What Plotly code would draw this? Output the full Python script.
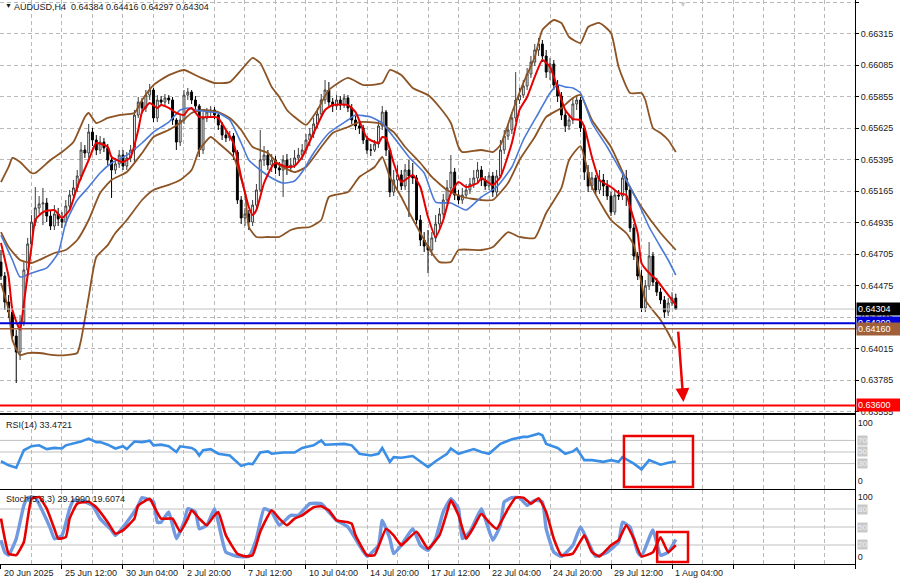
import plotly.graph_objects as go

# ---------------- data ----------------
bar_index = list(range(178))

opens = [0.64647, 0.64545, 0.64355, 0.64282, 0.64107, 0.63990, 0.64209, 0.64589, 0.64779, 0.64939,
         0.65042, 0.65071, 0.65078, 0.64983, 0.64910, 0.64998, 0.64961, 0.64939, 0.65056, 0.65136,
         0.65188, 0.65275, 0.65465, 0.65443, 0.65596, 0.65538, 0.65465, 0.65523, 0.65480, 0.65392,
         0.65319, 0.65363, 0.65428, 0.65348, 0.65407, 0.65465, 0.65720, 0.65815, 0.65772, 0.65866,
         0.65903, 0.65699, 0.65830, 0.65815, 0.65845, 0.65830, 0.65684, 0.65523, 0.65684, 0.65866,
         0.65888, 0.65830, 0.65786, 0.65465, 0.65699, 0.65742, 0.65757, 0.65720, 0.65647, 0.65574,
         0.65553, 0.65567, 0.65450, 0.65100, 0.64969, 0.64998, 0.64939, 0.65063, 0.65173, 0.65392,
         0.65428, 0.65355, 0.65392, 0.65334, 0.65319, 0.65392, 0.65334, 0.65355, 0.65407, 0.65428,
         0.65465, 0.65538, 0.65582, 0.65655, 0.65728, 0.65830, 0.65903, 0.65815, 0.65786, 0.65830,
         0.65794, 0.65845, 0.65772, 0.65684, 0.65640, 0.65626, 0.65538, 0.65465, 0.65465, 0.65509,
         0.65640, 0.65742, 0.65465, 0.65158, 0.65246, 0.65283, 0.65202, 0.65319, 0.65275, 0.65261,
         0.64954, 0.64808, 0.64764, 0.64735, 0.64823, 0.64925, 0.64998, 0.65100, 0.65188, 0.65304,
         0.65136, 0.65100, 0.65136, 0.65173, 0.65217, 0.65261, 0.65319, 0.65246, 0.65202, 0.65275,
         0.65158, 0.65275, 0.65465, 0.65567, 0.65611, 0.65699, 0.65830, 0.65866, 0.65932, 0.66020,
         0.66107, 0.66195, 0.66239, 0.66151, 0.66034, 0.66093, 0.65939, 0.65859, 0.65720, 0.65640,
         0.65684, 0.65801, 0.65830, 0.65626, 0.65304, 0.65202, 0.65261, 0.65173, 0.65246, 0.65202,
         0.65129, 0.65012, 0.65136, 0.65129, 0.65261, 0.65173, 0.64896, 0.64691, 0.64545, 0.64312,
         0.64472, 0.64691, 0.64501, 0.64428, 0.64370, 0.64282, 0.64348, 0.64384]

highs = [0.64735, 0.64574, 0.64406, 0.64312, 0.64151, 0.64260, 0.64647, 0.64823, 0.64990, 0.65195,
         0.65129, 0.65188, 0.65115, 0.65027, 0.65063, 0.65042, 0.65012, 0.65100, 0.65173, 0.65246,
         0.65319, 0.65523, 0.65501, 0.65655, 0.65626, 0.65574, 0.65567, 0.65553, 0.65509, 0.65428,
         0.65407, 0.65465, 0.65465, 0.65450, 0.65501, 0.65757, 0.65852, 0.65845, 0.65903, 0.65947,
         0.65918, 0.65866, 0.65859, 0.65874, 0.65866, 0.65852, 0.65699, 0.65720, 0.65903, 0.65918,
         0.65903, 0.65859, 0.65801, 0.65742, 0.65772, 0.65786, 0.65779, 0.65742, 0.65669, 0.65611,
         0.65604, 0.65589, 0.65465, 0.65129, 0.65042, 0.65027, 0.65100, 0.65217, 0.65611, 0.65494,
         0.65465, 0.65436, 0.65421, 0.65377, 0.65428, 0.65436, 0.65407, 0.65465, 0.65480, 0.65509,
         0.65582, 0.65626, 0.65699, 0.65772, 0.65874, 0.65976, 0.65961, 0.65845, 0.65866, 0.65859,
         0.65874, 0.65866, 0.65801, 0.65713, 0.65669, 0.65648, 0.65567, 0.65509, 0.65538, 0.65684,
         0.65786, 0.65757, 0.65480, 0.65319, 0.65355, 0.65319, 0.65363, 0.65392, 0.65370, 0.65283,
         0.64990, 0.64866, 0.64881, 0.64866, 0.64990, 0.65042, 0.65144, 0.65246, 0.65428, 0.65334,
         0.65173, 0.65188, 0.65217, 0.65261, 0.65319, 0.65377, 0.65348, 0.65275, 0.65304, 0.65304,
         0.65319, 0.65538, 0.65611, 0.65655, 0.65742, 0.66034, 0.65918, 0.65976, 0.66064, 0.66151,
         0.66239, 0.66283, 0.66268, 0.66195, 0.66137, 0.66122, 0.65976, 0.65888, 0.65757, 0.65728,
         0.65845, 0.65866, 0.65852, 0.65648, 0.65355, 0.65304, 0.65283, 0.65319, 0.65290, 0.65246,
         0.65158, 0.65173, 0.65173, 0.65304, 0.65319, 0.65202, 0.64925, 0.64720, 0.64589, 0.64516,
         0.64793, 0.64720, 0.64531, 0.64458, 0.64399, 0.64385, 0.64428, 0.64416]

lows = [0.64516, 0.64297, 0.64239, 0.64063, 0.63764, 0.63932, 0.64180, 0.64560, 0.64735, 0.64910,
        0.64998, 0.64917, 0.64939, 0.64881, 0.64881, 0.64910, 0.64896, 0.64910, 0.65027, 0.65115,
        0.65158, 0.65246, 0.65407, 0.65407, 0.65494, 0.65428, 0.65436, 0.65450, 0.65355, 0.65115,
        0.65290, 0.65334, 0.65319, 0.65319, 0.65377, 0.65377, 0.65699, 0.65742, 0.65742, 0.65830,
        0.65669, 0.65669, 0.65786, 0.65786, 0.65801, 0.65648, 0.65465, 0.65494, 0.65655, 0.65830,
        0.65801, 0.65757, 0.65414, 0.65436, 0.65669, 0.65713, 0.65691, 0.65611, 0.65538, 0.65523,
        0.65531, 0.65392, 0.65071, 0.64925, 0.64910, 0.64881, 0.64910, 0.65027, 0.65158, 0.65348,
        0.65319, 0.65304, 0.65290, 0.65275, 0.65122, 0.65283, 0.65304, 0.65334, 0.65377, 0.65392,
        0.65436, 0.65494, 0.65553, 0.65626, 0.65699, 0.65801, 0.65786, 0.65742, 0.65757, 0.65757,
        0.65772, 0.65742, 0.65655, 0.65611, 0.65582, 0.65509, 0.65436, 0.65421, 0.65450, 0.65480,
        0.65611, 0.65421, 0.65122, 0.65129, 0.65173, 0.65173, 0.65173, 0.64976, 0.65217, 0.64925,
        0.64764, 0.64720, 0.64567, 0.64691, 0.64793, 0.64896, 0.64969, 0.65071, 0.65158, 0.65100,
        0.65071, 0.65071, 0.65115, 0.65144, 0.65188, 0.65231, 0.65202, 0.65173, 0.65173, 0.65122,
        0.65129, 0.65261, 0.65436, 0.65538, 0.65582, 0.65669, 0.65801, 0.65845, 0.65903, 0.65991,
        0.66078, 0.66151, 0.66107, 0.65991, 0.65976, 0.65903, 0.65815, 0.65684, 0.65596, 0.65611,
        0.65655, 0.65757, 0.65596, 0.65246, 0.65158, 0.65173, 0.65144, 0.65144, 0.65129, 0.65100,
        0.64983, 0.64990, 0.65100, 0.65100, 0.65056, 0.64866, 0.64662, 0.64516, 0.64282, 0.64282,
        0.64443, 0.64472, 0.64399, 0.64341, 0.64239, 0.64253, 0.64326, 0.64297]

closes = [0.64545, 0.64355, 0.64282, 0.64107, 0.63990, 0.64209, 0.64589, 0.64779, 0.64939, 0.65042,
          0.65071, 0.65078, 0.64983, 0.64910, 0.64998, 0.64961, 0.64939, 0.65056, 0.65136, 0.65188,
          0.65275, 0.65465, 0.65443, 0.65596, 0.65538, 0.65465, 0.65523, 0.65480, 0.65392, 0.65319,
          0.65363, 0.65428, 0.65348, 0.65407, 0.65465, 0.65720, 0.65815, 0.65772, 0.65866, 0.65903,
          0.65699, 0.65830, 0.65815, 0.65845, 0.65830, 0.65684, 0.65523, 0.65684, 0.65866, 0.65888,
          0.65830, 0.65786, 0.65465, 0.65699, 0.65742, 0.65757, 0.65720, 0.65647, 0.65574, 0.65553,
          0.65567, 0.65450, 0.65100, 0.64969, 0.64998, 0.64939, 0.65063, 0.65173, 0.65392, 0.65428,
          0.65355, 0.65392, 0.65334, 0.65319, 0.65392, 0.65334, 0.65355, 0.65407, 0.65428, 0.65465,
          0.65538, 0.65582, 0.65655, 0.65728, 0.65830, 0.65903, 0.65815, 0.65786, 0.65830, 0.65794,
          0.65845, 0.65772, 0.65684, 0.65640, 0.65626, 0.65538, 0.65465, 0.65465, 0.65509, 0.65640,
          0.65742, 0.65465, 0.65158, 0.65246, 0.65283, 0.65202, 0.65319, 0.65275, 0.65261, 0.64954,
          0.64808, 0.64764, 0.64735, 0.64823, 0.64925, 0.64998, 0.65100, 0.65188, 0.65304, 0.65136,
          0.65100, 0.65136, 0.65173, 0.65217, 0.65261, 0.65319, 0.65246, 0.65202, 0.65275, 0.65158,
          0.65275, 0.65465, 0.65567, 0.65611, 0.65699, 0.65830, 0.65866, 0.65932, 0.66020, 0.66107,
          0.66195, 0.66239, 0.66151, 0.66034, 0.66093, 0.65939, 0.65859, 0.65720, 0.65640, 0.65684,
          0.65801, 0.65830, 0.65626, 0.65304, 0.65202, 0.65261, 0.65173, 0.65246, 0.65202, 0.65129,
          0.65012, 0.65136, 0.65129, 0.65261, 0.65173, 0.64896, 0.64691, 0.64545, 0.64312, 0.64472,
          0.64691, 0.64501, 0.64428, 0.64370, 0.64282, 0.64348, 0.64385, 0.64304]

# fast moving average (red)
ma_fast_x = [0, 2, 3, 5, 6, 8, 9, 11, 14, 16, 18, 20, 23, 25, 28, 29, 32, 34, 36, 37,
             39, 41, 42, 44, 46, 48, 49, 50, 52, 56, 57, 59, 61, 63, 65, 66, 67, 69, 71, 72,
             75, 77, 79, 82, 85, 87, 91, 93, 96, 99, 100, 101, 103, 105, 108, 110, 112, 114, 116, 118,
             120, 122, 125, 126, 129, 131, 134, 136, 138, 140, 142, 144, 146, 148, 150, 152, 153, 155, 157, 160,
             162, 164, 165, 167, 168, 170, 172, 174, 176, 177]
ma_fast = [0.64786, 0.64538, 0.64297, 0.64151, 0.64348, 0.64757, 0.64954, 0.65012, 0.65027, 0.64969,
           0.65027, 0.65195, 0.65392, 0.65516, 0.65487, 0.65414, 0.65377, 0.65414, 0.65611, 0.65742,
           0.65808, 0.65772, 0.65793, 0.65772, 0.65735, 0.65720, 0.65757, 0.65772, 0.65706, 0.65706,
           0.65699, 0.65611, 0.65516, 0.65268, 0.65049, 0.64990, 0.65027, 0.65224, 0.65341, 0.65370,
           0.65341, 0.65348, 0.65414, 0.65589, 0.65757, 0.65793, 0.65793, 0.65742, 0.65553, 0.65516,
           0.65560, 0.65553, 0.65370, 0.65231, 0.65283, 0.65195, 0.64976, 0.64830, 0.64954, 0.65151,
           0.65231, 0.65195, 0.65224, 0.65261, 0.65210, 0.65268, 0.65516, 0.65757, 0.65852, 0.65998,
           0.66122, 0.66071, 0.65918, 0.65757, 0.65691, 0.65684, 0.65633, 0.65414, 0.65246, 0.65195,
           0.65151, 0.65136, 0.65049, 0.64859, 0.64640, 0.64567, 0.64516, 0.64443, 0.64370, 0.64333]

# slower moving average (blue)
ma_slow_x = [0, 3, 5, 8, 12, 15, 17, 20, 23, 26, 29, 33, 37, 40, 44, 47, 49, 51, 55, 57,
             60, 63, 65, 68, 71, 74, 77, 79, 82, 86, 91, 93, 97, 100, 104, 107, 111, 114, 118, 122,
             126, 130, 134, 137, 141, 144, 146, 148, 150, 152, 155, 159, 162, 165, 168, 170, 173, 175, 177]
ma_slow = [0.64844, 0.64662, 0.64538, 0.64567, 0.64604, 0.64713, 0.64932, 0.65100, 0.65195, 0.65297,
           0.65370, 0.65428, 0.65516, 0.65596, 0.65669, 0.65757, 0.65772, 0.65757, 0.65742, 0.65735,
           0.65684, 0.65516, 0.65392, 0.65319, 0.65261, 0.65224, 0.65239, 0.65304, 0.65443, 0.65589,
           0.65684, 0.65720, 0.65706, 0.65662, 0.65523, 0.65414, 0.65297, 0.65085, 0.65078, 0.65027,
           0.65122, 0.65195, 0.65341, 0.65538, 0.65735, 0.65881, 0.65939, 0.65925, 0.65918, 0.65881,
           0.65662, 0.65487, 0.65341, 0.65195, 0.65027, 0.64903, 0.64757, 0.64662, 0.64552]

# Bollinger bands (brown)
bb_up_x = [0, 2, 3, 5, 8, 9, 13, 16, 19, 22, 23, 25, 28, 31, 35, 37, 40, 44, 48, 52,
           56, 60, 63, 66, 68, 71, 73, 75, 77, 80, 83, 86, 91, 95, 100, 102, 105, 108, 112, 115,
           118, 120, 121, 126, 129, 131, 134, 137, 140, 142, 145, 147, 149, 152, 154, 157, 160, 162, 165, 168,
           169, 171, 173, 175, 177]
bb_up = [0.65231, 0.65341, 0.65407, 0.65377, 0.65297, 0.65297, 0.65392, 0.65450, 0.65523, 0.65706,
         0.65735, 0.65662, 0.65699, 0.65720, 0.65735, 0.65830, 0.65939, 0.66012, 0.66049, 0.65998,
         0.65954, 0.65961, 0.66049, 0.66137, 0.66100, 0.65925, 0.65852, 0.65757, 0.65706, 0.65648,
         0.65757, 0.65903, 0.65991, 0.65939, 0.65954, 0.66049, 0.66012, 0.65918, 0.65866, 0.65779,
         0.65662, 0.65487, 0.65450, 0.65465, 0.65450, 0.65501, 0.65735, 0.65954, 0.66144, 0.66341,
         0.66414, 0.66392, 0.66290, 0.66246, 0.66363, 0.66392, 0.66319, 0.66071, 0.65881, 0.65881,
         0.65830, 0.65626, 0.65589, 0.65538, 0.65450]

bb_mid_x = [0, 2, 5, 8, 10, 14, 17, 20, 23, 26, 29, 33, 37, 40, 44, 47, 50, 53, 57, 60,
            63, 66, 70, 73, 77, 80, 84, 87, 91, 94, 99, 103, 106, 110, 113, 117, 121, 126, 129, 133,
            136, 140, 143, 147, 150, 152, 155, 160, 164, 168, 173, 177]
bb_mid = [0.64866, 0.64757, 0.64662, 0.64640, 0.64662, 0.64713, 0.64735, 0.64808, 0.64954, 0.65151,
          0.65246, 0.65304, 0.65443, 0.65560, 0.65611, 0.65662, 0.65735, 0.65757, 0.65742, 0.65699,
          0.65611, 0.65487, 0.65443, 0.65355, 0.65304, 0.65341, 0.65487, 0.65589, 0.65633, 0.65669,
          0.65662, 0.65596, 0.65487, 0.65370, 0.65268, 0.65173, 0.65122, 0.65100, 0.65100, 0.65224,
          0.65392, 0.65560, 0.65706, 0.65772, 0.65845, 0.65866, 0.65684, 0.65487, 0.65246, 0.65049,
          0.64859, 0.64735]

bb_lo_x = [0, 2, 3, 5, 7, 10, 14, 17, 20, 21, 23, 25, 28, 30, 33, 37, 40, 44, 47, 50,
           52, 55, 57, 61, 64, 65, 67, 70, 73, 76, 78, 81, 84, 86, 91, 94, 98, 100, 102, 105,
           107, 110, 113, 115, 118, 120, 126, 129, 133, 136, 140, 143, 147, 149, 152, 155, 160, 164, 166, 167,
           169, 173, 175, 177]
bb_lo = [0.64494, 0.64297, 0.64078, 0.63968, 0.63983, 0.63983, 0.63968, 0.63968, 0.63983, 0.64078,
         0.64392, 0.64684, 0.64771, 0.64859, 0.64954, 0.65100, 0.65173, 0.65210, 0.65246, 0.65319,
         0.65465, 0.65560, 0.65516, 0.65414, 0.65151, 0.64903, 0.64830, 0.64830, 0.64830, 0.64881,
         0.64896, 0.64903, 0.64954, 0.65122, 0.65158, 0.65268, 0.65341, 0.65414, 0.65268, 0.65122,
         0.65012, 0.64859, 0.64713, 0.64647, 0.64647, 0.64735, 0.64735, 0.64757, 0.64866, 0.64830,
         0.64823, 0.65005, 0.65188, 0.65392, 0.65494, 0.65195, 0.64954, 0.64859, 0.64771, 0.64640,
         0.64370, 0.64224, 0.64129, 0.64020]

# RSI(14)
rsi_x = [0, 2, 4, 5, 6, 8, 10, 12, 14, 16, 17, 21, 23, 25, 26, 28, 30, 32, 33, 35,
         37, 39, 40, 42, 44, 46, 47, 50, 51, 52, 53, 55, 57, 60, 62, 63, 65, 66, 68, 70,
         71, 74, 77, 79, 82, 84, 85, 87, 90, 92, 94, 97, 99, 100, 102, 103, 105, 108, 110, 112,
         114, 117, 118, 120, 124, 126, 128, 131, 134, 137, 138, 141, 142, 143, 146, 148, 150, 151, 153, 155,
         158, 160, 162, 163, 166, 168, 170, 173, 175, 177]
rsi = [34, 27, 23, 38, 53, 60, 61.5, 55, 57, 56, 61.5, 68, 73, 67, 67, 62.6, 56, 60, 55, 68,
       67, 69.5, 61.5, 62.6, 60, 50, 59.8, 57, 53, 44, 53, 55, 47, 44, 33, 26, 30, 29, 49, 51,
       47, 49, 49, 57, 61.5, 70, 62.6, 63, 64, 61.5, 47, 44, 47, 57, 33, 41, 40, 43, 33, 24,
       34, 47, 56, 47, 55, 50, 47, 64, 72, 76, 76, 81.6, 79, 64, 57, 47, 51, 56, 36, 36,
       33, 36, 33, 41, 30, 20, 36, 28, 31.5, 33.47]

# Stochastic(5,3,3): %K (blue) and %D (red)
stoch_k_x = [0, 1, 2, 4, 6, 7, 9, 11, 13, 14, 16, 18, 19, 22, 24, 26, 29, 30, 33, 36,
             37, 40, 41, 42, 44, 46, 48, 49, 51, 52, 54, 56, 57, 59, 62, 65, 67, 69, 71, 73,
             76, 78, 81, 84, 86, 88, 91, 94, 96, 99, 100, 102, 103, 105, 108, 110, 112, 114, 116, 118,
             120, 121, 123, 126, 127, 129, 131, 132, 134, 136, 138, 140, 142, 143, 145, 147, 150, 152, 154, 156,
             159, 162, 163, 165, 167, 168, 171, 173, 175, 177]
stoch_k = [28, 8, 3, 30.5, 86, 99, 99, 75, 47, 30.5, 36, 80.5, 94.5, 92, 86, 64, 44.5, 36, 58, 86,
           99, 92, 58, 58, 75, 30.5, 58, 80.5, 75, 47, 53, 80.5, 58, 8, 1, 1, 30.5, 80.5, 75, 53,
           69.5, 69.5, 89, 89, 75, 61, 50, 19.5, 1, 19.5, 61, 30.5, 5.5, 19.5, 47, 19.5, 11, 30.5, 75, 97,
           80.5, 30.5, 42, 80.5, 64, 28, 53, 92, 99, 99, 86, 94.5, 92, 47, 8, 1, 19.5, 50, 25, 1,
           8, 25, 58, 50, 8, 1, 45, 3, 8, 29.2]
stoch_d_x = [0, 1, 2, 4, 6, 7, 8, 10, 12, 14, 15, 17, 18, 20, 23, 25, 28, 30, 32, 35,
             36, 39, 40, 42, 45, 47, 49, 50, 52, 54, 56, 57, 59, 62, 64, 66, 68, 71, 73, 75,
             77, 79, 82, 84, 86, 88, 91, 92, 93, 96, 98, 101, 103, 105, 106, 109, 112, 115, 117, 118,
             120, 122, 124, 126, 128, 130, 133, 135, 137, 139, 141, 143, 145, 147, 150, 153, 155, 157, 160, 162,
             164, 166, 168, 171, 173, 175, 177]
stoch_d = [64, 30.5, 5.5, 3, 25, 64, 97, 100, 80.5, 47, 30.5, 33, 64, 89, 92, 83, 58, 39, 44.5, 64,
           86, 97, 86, 64, 64, 42, 64, 78, 64, 53, 69.5, 75, 36, 5.5, 1, 3, 42, 78, 64, 53,
           64, 69.5, 83, 84.5, 78, 61, 58, 55.5, 36, 3, 3, 47, 36, 19.5, 25, 42, 14, 36, 75, 94.5,
           69.5, 30.5, 50, 72, 58, 47, 80.5, 99, 99, 89, 98, 75, 30.5, 3, 5.5, 36, 8, 1, 19.5, 28,
           53, 30.5, 1, 8, 33, 8, 19.61]

# axis texts
price_ticks = [0.63555, 0.63785, 0.64015, 0.64245, 0.64475, 0.64705, 0.64935, 0.65165,
               0.65395, 0.65625, 0.65855, 0.66085, 0.66315, 0.66545]
price_tick_text = ["0.63555", "0.63785", "0.64015", "0.64245", "0.64475", "0.64705", "0.64935",
                   "0.65165", "0.65395", "0.65625", "0.65855", "0.66085", "0.66315", "0.66545"]
time_label_bars = [0, 16, 32, 48, 64, 80, 96, 112, 128, 144, 160, 176]
time_labels = ["20 Jun 2025", "25 Jun 12:00", "30 Jun 04:00", "2 Jul 20:00", "7 Jul 12:00",
               "10 Jul 04:00", "14 Jul 20:00", "17 Jul 12:00", "22 Jul 04:00", "24 Jul 20:00",
               "29 Jul 12:00", "1 Aug 04:00"]

# horizontal price levels
bid_price = 0.64304
blue_level = 0.64200
brown_level = 0.64160
target_level = 0.63600

rsi_levels = [70, 50, 30]
stoch_levels = [80, 50, 20]

title_text = "AUDUSD,H4\u00a0\u00a00.64384 0.64416 0.64297 0.64304"
rsi_title = "RSI(14) 33.4721"
stoch_title = "Stoch(5,3,3) 29.1990 19.6074"

# ---------------- styling ----------------
FONT = "Liberation Sans, Arial, sans-serif"
TXT = "#1a1a1a"
GRID = "#b9b9b9"
GDASH = "4px,3px"
BROWN = "#8c5424"
RED = "#e60000"
BLUE_MA = "#4a7ad8"

X_RANGE = [-0.26, 224.0]
MAIN_RANGE = [0.63545, 0.66560]
RSI_RANGE = [-13.8, 113.8]
STOCH_RANGE = [-11.7, 111.7]

fig = go.Figure()

fig.add_trace(go.Candlestick(
    x=bar_index, open=opens, high=highs, low=lows, close=closes,
    increasing=dict(line=dict(color="#3c3c3c", width=1), fillcolor="#ffffff"),
    decreasing=dict(line=dict(color="#000000", width=1), fillcolor="#000000"),
    whiskerwidth=0, hoverinfo="skip", xaxis="x", yaxis="y"))

for xs, ys in [(bb_up_x, bb_up), (bb_mid_x, bb_mid), (bb_lo_x, bb_lo)]:
    fig.add_trace(go.Scatter(x=xs, y=ys, mode="lines", hoverinfo="skip",
                             line=dict(color=BROWN, width=1.8, shape="spline", smoothing=0.5),
                             xaxis="x", yaxis="y"))
fig.add_trace(go.Scatter(x=ma_slow_x, y=ma_slow, mode="lines", hoverinfo="skip",
                         line=dict(color=BLUE_MA, width=1.6, shape="spline", smoothing=0.5),
                         xaxis="x", yaxis="y"))
fig.add_trace(go.Scatter(x=ma_fast_x, y=ma_fast, mode="lines", hoverinfo="skip",
                         line=dict(color=RED, width=2, shape="spline", smoothing=0.5),
                         xaxis="x", yaxis="y"))

fig.add_trace(go.Scatter(x=rsi_x, y=rsi, mode="lines", hoverinfo="skip",
                         line=dict(color="#3a8ee6", width=2.6),
                         xaxis="x2", yaxis="y2"))

fig.add_trace(go.Scatter(x=stoch_k_x, y=stoch_k, mode="lines", hoverinfo="skip",
                         line=dict(color="#7099e0", width=3.4, shape="spline", smoothing=0.4),
                         xaxis="x3", yaxis="y3"))
fig.add_trace(go.Scatter(x=stoch_d_x, y=stoch_d, mode="lines", hoverinfo="skip",
                         line=dict(color=RED, width=2.6, shape="spline", smoothing=0.4),
                         xaxis="x3", yaxis="y3"))

shapes = []
# price level lines
shapes.append(dict(type="line", xref="paper", x0=0, x1=1, yref="y", y0=bid_price, y1=bid_price,
                   line=dict(color="#c4c4c4", width=1), layer="above"))
shapes.append(dict(type="line", xref="paper", x0=0, x1=1, yref="y", y0=blue_level, y1=blue_level,
                   line=dict(color="#0000d8", width=2), layer="above"))
shapes.append(dict(type="line", xref="paper", x0=0, x1=1, yref="y", y0=brown_level, y1=brown_level,
                   line=dict(color="#a0603a", width=1.5), layer="above"))
shapes.append(dict(type="line", xref="paper", x0=0, x1=1, yref="y", y0=target_level, y1=target_level,
                   line=dict(color="#ff0000", width=2), layer="above"))
for lv in rsi_levels:
    shapes.append(dict(type="line", xref="paper", x0=0, x1=1, yref="y2", y0=lv, y1=lv,
                       line=dict(color="#c0c0c0", width=1), layer="below"))
for lv in stoch_levels:
    shapes.append(dict(type="line", xref="paper", x0=0, x1=1, yref="y3", y0=lv, y1=lv,
                       line=dict(color="#c0c0c0", width=1), layer="below"))
# highlight boxes
shapes.append(dict(type="rect", xref="x2", yref="y2", x0=163.4, x1=181.5, y0=-10.3, y1=77.6,
                   line=dict(color="#ee0000", width=2.5), layer="above"))
shapes.append(dict(type="rect", xref="x3", yref="y3", x0=172.1, x1=180.2, y0=-8.3, y1=41.7,
                   line=dict(color="#ee0000", width=2.5), layer="above"))

ann = []
# arrow
ann.append(dict(x=179.0, y=0.63625, xref="x", yref="y", ax=177.6, ay=0.64150, axref="x", ayref="y",
                showarrow=True, arrowhead=2, arrowsize=1.1, arrowwidth=2.5, arrowcolor="#ee0000", text=""))
# titles
ann.append(dict(text="\u25bc", xref="paper", x=0, xanchor="left", xshift=3, yref="paper", y=1,
                yanchor="top", yshift=0, showarrow=False, font=dict(family=FONT, size=7, color=TXT)))
ann.append(dict(text=title_text, xref="paper", x=0, xanchor="left", xshift=12, yref="paper", y=1,
                yanchor="top", yshift=0, showarrow=False, font=dict(family=FONT, size=9, color=TXT)))
ann.append(dict(text=rsi_title, xref="paper", x=0, xanchor="left", xshift=4, yref="y2 domain", y=1,
                yanchor="top", yshift=-3, showarrow=False, font=dict(family=FONT, size=9, color=TXT)))
ann.append(dict(text=stoch_title, xref="paper", x=0, xanchor="left", xshift=4, yref="y3 domain", y=1,
                yanchor="top", yshift=-2, showarrow=False, font=dict(family=FONT, size=9, color=TXT)))
# chart shift marker
ann.append(dict(text="\u25bc", xref="x", x=179.0, yref="paper", y=1, yanchor="top", yshift=2,
                showarrow=False, font=dict(family=FONT, size=8, color="#c8c8c8")))
# level labels in sub windows
for lv in rsi_levels:
    ann.append(dict(text=str(lv), xref="paper", x=1, xanchor="left", xshift=2, yref="y2", y=lv,
                    showarrow=False, bgcolor="#c8c8c8", borderpad=0,
                    font=dict(family=FONT, size=8, color="#f2f2f2")))
for lv in stoch_levels:
    ann.append(dict(text=str(lv), xref="paper", x=1, xanchor="left", xshift=2, yref="y3", y=lv,
                    showarrow=False, bgcolor="#c8c8c8", borderpad=0,
                    font=dict(family=FONT, size=8, color="#f2f2f2")))
# price labels
for val, bg in [(blue_level, "#0000d8"), (bid_price, "#000000"), (brown_level, "#a0603a"),
                (target_level, "#ff0000")]:
    ann.append(dict(text="%.5f" % val, xref="paper", x=1, xanchor="left", xshift=1, yref="y", y=val,
                    showarrow=False, bgcolor=bg, borderpad=1, width=41, align="left",
                    font=dict(family=FONT, size=9, color="#ffffff")))
# time labels
for b, t in zip(time_label_bars, time_labels):
    ann.append(dict(text=t, xref="x3", x=b, xanchor="left", xshift=1, yref="paper", y=0,
                    yanchor="top", yshift=-2, showarrow=False,
                    font=dict(family=FONT, size=9, color=TXT)))

common_x = dict(range=X_RANGE, tickmode="linear", tick0=0, dtick=16, showticklabels=False,
                showgrid=True, gridcolor=GRID, griddash=GDASH, gridwidth=1,
                minor=dict(tick0=0, dtick=8, showgrid=True, gridcolor=GRID, griddash=GDASH, gridwidth=1),
                showline=True, mirror=True, linecolor="#000000", linewidth=1, zeroline=False,
                fixedrange=True)

fig.update_layout(
    width=900, height=584,
    margin=dict(l=0, r=45, t=0, b=20),
    paper_bgcolor="#ffffff", plot_bgcolor="#ffffff",
    showlegend=False,
    font=dict(family=FONT, size=9, color=TXT),
    xaxis=dict(domain=[0, 1], anchor="y", rangeslider=dict(visible=False), **common_x),
    xaxis2=dict(domain=[0, 1], anchor="y2", matches="x", **common_x),
    xaxis3=dict(domain=[0, 1], anchor="y3", matches="x", ticks="outside", ticklen=4,
                tickcolor="#000000", **common_x),
    yaxis=dict(domain=[0.2677, 1], range=MAIN_RANGE, side="right", anchor="x",
               tickmode="array", tickvals=price_ticks, ticktext=price_tick_text,
               ticks="outside", ticklen=3, tickcolor="#000000",
               showgrid=True, gridcolor=GRID, griddash=GDASH, gridwidth=1,
               showline=True, mirror=True, linecolor="#000000", linewidth=1, zeroline=False,
               tickfont=dict(family=FONT, size=9, color=TXT)),
    yaxis2=dict(domain=[0.1330, 0.2642], range=RSI_RANGE, side="right", anchor="x2",
                tickmode="array", tickvals=[0, 100], ticktext=["0", "100"],
                ticks="", showgrid=False,
                showline=True, mirror=True, linecolor="#000000", linewidth=1, zeroline=False,
                tickfont=dict(family=FONT, size=9, color=TXT)),
    yaxis3=dict(domain=[0, 0.1312], range=STOCH_RANGE, side="right", anchor="x3",
                tickmode="array", tickvals=[0, 100], ticktext=["0", "100"],
                ticks="", showgrid=False,
                showline=True, mirror=True, linecolor="#000000", linewidth=1, zeroline=False,
                tickfont=dict(family=FONT, size=9, color=TXT)),
    shapes=shapes,
    annotations=ann,
)

fig.write_html("out.html",
               config={"displayModeBar": False, "displaylogo": False, "staticPlot": True},
               post_script="document.body.style.margin='0';document.body.style.overflow='hidden';")
